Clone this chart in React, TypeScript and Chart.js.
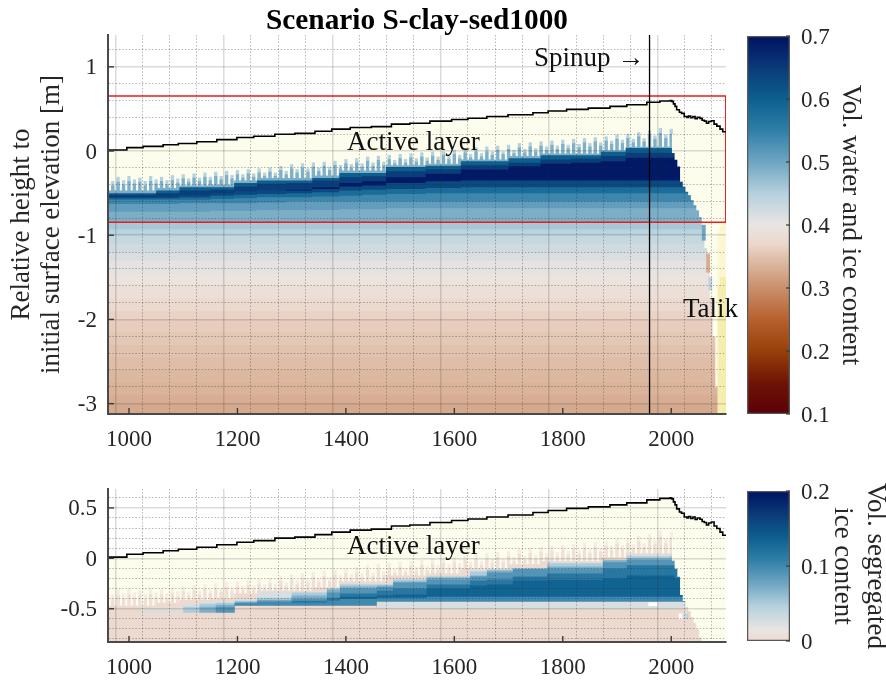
import { useEffect, useRef } from 'react';
import { Chart, registerables } from 'chart.js';

Chart.register(...registerables);

const SERIF = '"Liberation Serif", "Times New Roman", serif';
const INK = '#262626';

// colour map
const mapValues = [0.1, 0.15, 0.2, 0.25, 0.3, 0.35, 0.37, 0.4, 0.45, 0.5, 0.55, 0.6, 0.65, 0.7];
const mapColors = ['#5a0008', '#6f1405', '#993f0a', '#b7612e', '#c98f6c', '#e1c2ae', '#ecd8cc', '#e9e5e2', '#b5d1de', '#6fa5c2', '#307fa8', '#0d5f8f', '#0a3a78', '#001261'];

// surface elevation
const surfaceYears = [961, 996, 1026, 1063, 1091, 1125, 1162, 1199, 1230, 1269, 1306, 1343, 1374, 1408, 1447, 1484, 1518, 1555, 1595, 1625, 1660, 1699, 1745, 1773, 1807, 1847, 1887, 1918, 1955, 1979, 1998, 2001, 2004, 2007, 2010, 2015, 2019, 2024, 2029, 2032, 2036, 2040, 2044, 2048, 2053, 2057, 2061, 2065, 2069, 2074, 2079, 2084, 2090, 2095, 2101];
const surfaceElev = [0.012, 0.04, 0.055, 0.075, 0.09, 0.11, 0.135, 0.16, 0.175, 0.2, 0.21, 0.235, 0.26, 0.28, 0.29, 0.32, 0.33, 0.355, 0.375, 0.39, 0.41, 0.43, 0.455, 0.475, 0.495, 0.51, 0.53, 0.55, 0.58, 0.595, 0.6, 0.59, 0.56, 0.53, 0.49, 0.46, 0.447, 0.41, 0.4, 0.415, 0.395, 0.41, 0.385, 0.4, 0.388, 0.365, 0.355, 0.33, 0.35, 0.36, 0.32, 0.296, 0.26, 0.229, 0.221];

// seasonal thaw spikes
const spikeYears = [960, 970, 980, 990, 1000, 1010, 1020, 1030, 1040, 1050, 1060, 1070, 1080, 1090, 1100, 1110, 1120, 1130, 1140, 1150, 1160, 1170, 1180, 1190, 1200, 1210, 1220, 1230, 1240, 1250, 1260, 1270, 1280, 1290, 1300, 1310, 1320, 1330, 1340, 1350, 1360, 1370, 1380, 1390, 1400, 1410, 1420, 1430, 1440, 1450, 1460, 1470, 1480, 1490, 1500, 1510, 1520, 1530, 1540, 1550, 1560, 1570, 1580, 1590, 1600, 1610, 1620, 1630, 1640, 1650, 1660, 1670, 1680, 1690, 1700, 1710, 1720, 1730, 1740, 1750, 1760, 1770, 1780, 1790, 1800, 1810, 1820, 1830, 1840, 1850, 1860, 1870, 1880, 1890, 1900, 1910, 1920, 1930, 1940, 1950, 1960, 1970, 1980, 1990, 2000, 2010];
const spikeOuter = [-0.33, -0.36, -0.31, -0.35, -0.3, -0.34, -0.32, -0.36, -0.3, -0.34, -0.31, -0.35, -0.29, -0.33, -0.28, -0.33, -0.27, -0.32, -0.26, -0.31, -0.25, -0.3, -0.24, -0.29, -0.23, -0.28, -0.22, -0.27, -0.21, -0.26, -0.2, -0.26, -0.18, -0.24, -0.16, -0.22, -0.15, -0.21, -0.14, -0.2, -0.13, -0.19, -0.12, -0.17, -0.1, -0.16, -0.09, -0.15, -0.07, -0.14, -0.06, -0.13, -0.05, -0.11, -0.04, -0.1, -0.03, -0.09, -0.02, -0.08, -0.01, -0.07, 0, -0.06, 0.01, -0.05, 0.03, -0.04, 0.04, -0.03, 0.05, -0.01, 0.06, 0, 0.07, 0.01, 0.09, 0.02, 0.1, 0.03, 0.11, 0.05, 0.12, 0.06, 0.13, 0.07, 0.14, 0.08, 0.15, 0.09, 0.16, 0.1, 0.17, 0.12, 0.19, 0.13, 0.2, 0.14, 0.22, 0.15, 0.24, 0.18, 0.27, 0.19, 0.26, 0.1];
const spikeInner = [-0.38, -0.41, -0.37, -0.4, -0.36, -0.39, -0.37, -0.41, -0.36, -0.39, -0.36, -0.4, -0.35, -0.38, -0.33, -0.37, -0.32, -0.36, -0.31, -0.35, -0.3, -0.34, -0.29, -0.33, -0.28, -0.32, -0.27, -0.31, -0.26, -0.3, -0.25, -0.3, -0.23, -0.28, -0.21, -0.26, -0.2, -0.25, -0.19, -0.24, -0.18, -0.23, -0.17, -0.21, -0.15, -0.2, -0.14, -0.19, -0.12, -0.18, -0.11, -0.17, -0.1, -0.15, -0.09, -0.14, -0.08, -0.13, -0.07, -0.12, -0.06, -0.11, -0.05, -0.1, -0.04, -0.09, -0.02, -0.08, -0.01, -0.07, 0, -0.05, 0.01, -0.04, 0.02, -0.03, 0.04, -0.02, 0.05, -0.01, 0.06, 0.01, 0.07, 0.02, 0.08, 0.03, 0.09, 0.04, 0.1, 0.05, 0.11, 0.06, 0.12, 0.08, 0.14, 0.09, 0.15, 0.1, 0.17, 0.11, 0.19, 0.14, 0.21, 0.15, 0.2, 0.06];
const spikeBase = -0.62;

// water and ice bands: top of each band at each year
const coreYears = [961, 1000, 1050, 1093, 1150, 1194, 1236, 1290, 1338, 1388, 1430, 1474, 1547, 1612, 1700, 1759, 1815, 1870, 1916, 2005, 2101];
const bandValues = [0.49, 0.6, 0.645, 0.69, 0.63, 0.58, 0.54, 0.51, 0.49];
const band0 = [-0.47, -0.47, -0.44, -0.41, -0.4, -0.35, -0.32, -0.32, -0.29, -0.23, -0.23, -0.17, -0.15, -0.1, -0.06, -0.03, -0.03, 0.01, 0.05, 0.05, 0.05];
const band1 = [-0.5, -0.5, -0.47, -0.43, -0.43, -0.38, -0.35, -0.35, -0.32, -0.26, -0.26, -0.19, -0.175, -0.12, -0.085, -0.05, -0.05, -0.01, 0.035, 0.035, 0.035];
const band2 = [-0.52, -0.52, -0.5, -0.47, -0.46, -0.42, -0.39, -0.38, -0.35, -0.31, -0.3, -0.24, -0.215, -0.17, -0.14, -0.1, -0.09, -0.06, -0.02, -0.02, -0.02];
const band3 = [-0.6, -0.6, -0.6, -0.6, -0.6, -0.55, -0.5, -0.46, -0.43, -0.38, -0.36, -0.31, -0.27, -0.22, -0.18, -0.15, -0.14, -0.12, -0.08, -0.08, -0.08];
const band4 = [-0.55, -0.55, -0.54, -0.52, -0.5, -0.48, -0.47, -0.47, -0.45, -0.42, -0.41, -0.38, -0.36, -0.35, -0.35, -0.35, -0.35, -0.35, -0.35, -0.35, -0.35];
const band5 = [-0.56, -0.56, -0.56, -0.55, -0.53, -0.52, -0.51, -0.5, -0.49, -0.47, -0.46, -0.45, -0.44, -0.43, -0.43, -0.43, -0.43, -0.43, -0.43, -0.43, -0.43];
const band6 = [-0.58, -0.58, -0.58, -0.58, -0.57, -0.56, -0.55, -0.55, -0.54, -0.53, -0.52, -0.51, -0.5, -0.5, -0.5, -0.5, -0.5, -0.5, -0.5, -0.5, -0.5];
const band7 = [-0.63, -0.63, -0.63, -0.62, -0.62, -0.62, -0.61, -0.6, -0.6, -0.6, -0.6, -0.6, -0.6, -0.6, -0.6, -0.6, -0.6, -0.6, -0.6, -0.6, -0.6];
const band8 = [-0.72, -0.72, -0.72, -0.72, -0.71, -0.71, -0.7, -0.7, -0.7, -0.69, -0.69, -0.68, -0.68, -0.68, -0.68, -0.68, -0.68, -0.68, -0.68, -0.68, -0.68];

// deep rows
const deepTops = [-0.85, -0.93, -1.0, -1.1, -1.2, -1.3, -1.45, -1.6, -1.75, -1.9, -2.0, -2.15, -2.3, -2.45, -2.6, -2.75, -2.9, -3.0];
const deepValues = [0.46, 0.445, 0.435, 0.425, 0.415, 0.405, 0.395, 0.385, 0.375, 0.365, 0.36, 0.355, 0.35, 0.345, 0.34, 0.335, 0.33, 0.325];

// thawed column at the right end
const talikYears = [2005, 2010, 2015, 2020, 2025, 2030, 2035, 2040, 2045, 2050, 2055, 2060, 2065, 2070, 2075, 2080, 2085, 2090, 2095, 2100];
const talikEdge = [-0.02, -0.1, -0.18, -0.36, -0.42, -0.48, -0.52, -0.58, -0.64, -0.7, -0.78, -0.88, -1.15, -1.4, -1.75, -2.2, -2.8, -3.13, -3.13, -3.13];
const talikCeiling = 0.2;
const yellowYears = [2090, 2094, 2098, 2101];
const yellowLow = [-3.13, -3.13, -3.13, -3.13];
const yellowHigh = [-1.6, -1.5, -1.5, -1.5];
const paleYellowHigh = [-0.95, -0.9, -0.88, -0.86];
const spotYears = [2060, 2068, 2072];
const spotLow = [-1.06, -1.44, -1.65];
const spotHigh = [-0.88, -1.22, -1.5];
const spotValues = [0.5, 0.33, 0.44];

// segregated ice contours
const iceYears = [961, 1020, 1100, 1130, 1160, 1195, 1236, 1300, 1365, 1389, 1457, 1487, 1549, 1629, 1660, 1708, 1771, 1874, 1918, 1998, 2006, 2018, 2022, 2101];
const iceValues = [0.025, 0.05, 0.07, 0.09, 0.115, 0.135, 0.1, 0.025];
const ice1 = [-0.6, -0.51, -0.45, -0.43, -0.43, -0.4, -0.33, -0.33, -0.29, -0.25, -0.25, -0.2, -0.17, -0.11, -0.11, -0.1, -0.034, -0.017, 0.043, 0.043, -0.017, -0.215, -0.43, -0.43];
const ice2 = [-0.6, -0.6, -0.48, -0.45, -0.44, -0.42, -0.39, -0.34, -0.3, -0.26, -0.26, -0.21, -0.18, -0.13, -0.11, -0.1, -0.05, -0.017, 0.02, 0.03, -0.017, -0.215, -0.43, -0.43];
const ice3 = [-0.6, -0.6, -0.6, -0.48, -0.46, -0.43, -0.41, -0.37, -0.31, -0.28, -0.27, -0.23, -0.19, -0.17, -0.12, -0.1, -0.08, -0.02, 0, 0.01, -0.017, -0.215, -0.43, -0.43];
const ice4 = [-0.6, -0.6, -0.6, -0.6, -0.48, -0.44, -0.42, -0.4, -0.34, -0.3, -0.285, -0.24, -0.21, -0.18, -0.14, -0.105, -0.1, -0.04, -0.017, -0.017, -0.017, -0.215, -0.43, -0.43];
const ice5 = [-0.6, -0.6, -0.6, -0.6, -0.6, -0.45, -0.44, -0.42, -0.39, -0.35, -0.32, -0.3, -0.26, -0.22, -0.21, -0.18, -0.15, -0.1, -0.07, -0.07, -0.07, -0.215, -0.43, -0.43];
const ice6 = [-0.6, -0.6, -0.6, -0.6, -0.6, -0.6, -0.6, -0.6, -0.6, -0.38, -0.37, -0.36, -0.3, -0.27, -0.26, -0.22, -0.215, -0.2, -0.17, -0.17, -0.2, -0.215, -0.43, -0.43];
const ice7 = [-0.6, -0.6, -0.6, -0.6, -0.6, -0.45, -0.44, -0.44, -0.42, -0.4, -0.39, -0.39, -0.38, -0.38, -0.38, -0.38, -0.38, -0.38, -0.38, -0.38, -0.38, -0.38, -0.43, -0.43];
const ice8 = [-0.6, -0.6, -0.6, -0.6, -0.6, -0.6, -0.6, -0.6, -0.6, -0.6, -0.43, -0.43, -0.43, -0.43, -0.43, -0.43, -0.43, -0.43, -0.43, -0.43, -0.43, -0.43, -0.43, -0.43];
const iceBase = [-0.5, -0.54, -0.54, -0.54, -0.54, -0.47, -0.47, -0.47, -0.47, -0.47, -0.5, -0.5, -0.5, -0.5, -0.5, -0.5, -0.5, -0.5, -0.5, -0.5, -0.5, -0.5, -0.5, -0.5];
const gapYears = [1961, 1966, 1971, 2017];
const gapLow = [-0.47, -0.47, -0.47, -0.6];
const gapHigh = [-0.44, -0.44, -0.44, -0.55];
const paleIceYears = [2028];
const paleIceLow = [-0.6];
const paleIceHigh = [-0.55];

// axes
const xRange = [961.3, 2101];
const xGridTicks = [1000, 1050, 1100, 1150, 1200, 1250, 1300, 1350, 1400, 1450, 1500, 1550, 1600, 1650, 1700, 1750, 1800, 1850, 1900, 1950, 2000, 2050, 2100];
const xMajor = [1000, 1200, 1400, 1600, 1800, 2000];
const mainRange = [-3.123, 1.378];
const mainGridTicks = [-3, -2.8, -2.6, -2.4, -2.2, -2, -1.8, -1.6, -1.4, -1.2, -1, -0.8, -0.6, -0.4, -0.2, 0, 0.2, 0.4, 0.6, 0.8, 1, 1.2];
const mainMajor = [-3, -2, -1, 0, 1];
const lowerRange = [-0.83, 0.6875];
const lowerGridTicks = [-0.8, -0.7, -0.6, -0.5, -0.4, -0.3, -0.2, -0.1, 0, 0.1, 0.2, 0.3, 0.4, 0.5, 0.6];
const lowerMajor = [-0.5, 0, 0.5];
const redBoxX = [961.3, 2100.6, 2100.6, 961.3, 961.3];
const redBoxY = [0.653, 0.653, -0.847, -0.847, 0.653];
const spinupYear = 1960;
const barMainTicks = [0.1, 0.2, 0.3, 0.4, 0.5, 0.6, 0.7];
const barIceTicks = [0, 0.1, 0.2];
const chartTitle = 'Scenario S-clay-sed1000';

const CREAM = '#fdfdee';

function mapColor(v: number): string {
  let i = 0;
  while (i < mapValues.length - 2 && v > mapValues[i + 1]) i++;
  const t = Math.min(1, Math.max(0, (v - mapValues[i]) / (mapValues[i + 1] - mapValues[i])));
  const hex = (s: string, k: number) => parseInt(s.slice(1 + k * 2, 3 + k * 2), 16);
  const c = [0, 1, 2].map((k) => Math.round(hex(mapColors[i], k) * (1 - t) + hex(mapColors[i + 1], k) * t));
  return `rgb(${c[0]},${c[1]},${c[2]})`;
}
const iceToMap = (ice: number) => 0.375 + ice * 1.625;

const pairs = (xs: number[], ys: number[]) => xs.map((x, i) => ({ x, y: ys[i] }));
const floats = (xs: number[], lo: number[], hi: number[]) => xs.map((x, i) => ({ x, y: [lo[i], hi[i]] }));

const stepBand = (xs: number[], ys: number[], color: string) => ({
  type: 'line', data: pairs(xs, ys), stepped: true, fill: 'start', backgroundColor: color,
  borderWidth: 0, borderColor: 'transparent', pointRadius: 0,
});
const strokeLine = (xs: number[], ys: number[], color: string, width: number, stepped = false) => ({
  type: 'line', data: pairs(xs, ys), stepped, fill: false, borderColor: color, borderWidth: width, pointRadius: 0,
});
const floatBars = (data: any[], color: any, thickness: number) => ({
  type: 'bar', data, backgroundColor: color, borderWidth: 0, barThickness: thickness, grouped: false,
});
const ordered = (list: any[]) => list.map((d, i) => ({ ...d, order: list.length - i }));

const talikEdgeBars = () => floatBars(talikYears.map((x, i) => ({ x, y: [talikEdge[i], talikCeiling] })), CREAM, 3.4);

function mainDatasets() {
  const bands = [band0, band1, band2, band3, band4, band5, band6, band7, band8];
  return ordered([
    stepBand(surfaceYears, surfaceElev, CREAM),
    floatBars(spikeYears.map((x, i) => ({ x, y: [spikeBase, spikeOuter[i]] })), '#b4d2e0', 2.6),
    floatBars(spikeYears.map((x, i) => ({ x, y: [spikeBase, spikeInner[i]] })), '#7fb0ca', 2.6),
    ...bands.map((b, i) => stepBand(coreYears, b, mapColor(bandValues[i]))),
    ...deepTops.map((t, i) => stepBand(xRange, [t, t], mapColor(deepValues[i]))),
    talikEdgeBars(),
    floatBars(floats(yellowYears, yellowLow, paleYellowHigh), '#fbf7d2', 4),
    floatBars(floats(yellowYears, yellowLow, yellowHigh), '#f5eeae', 4),
    floatBars(floats(spotYears, spotLow, spotHigh), spotValues.map(mapColor), 3.2),
    strokeLine(redBoxX, redBoxY, '#f01a1a', 1.5),
    strokeLine(surfaceYears, surfaceElev, '#000000', 1.6, true),
    strokeLine([spinupYear, spinupYear], mainRange, '#000000', 1.3),
  ]);
}

function lowerDatasets() {
  const contours = [ice1, ice2, ice3, ice4, ice5, ice6, ice7, ice8];
  return ordered([
    stepBand(surfaceYears, surfaceElev, CREAM),
    floatBars(spikeYears.map((x, i) => ({ x, y: [spikeBase, spikeOuter[i]] })), '#f6ece2', 2.6),
    floatBars(spikeYears.map((x, i) => ({ x, y: [spikeBase, spikeInner[i]] })), '#efdfd6', 2.6),
    stepBand(coreYears, band0, mapColor(iceToMap(0))),
    ...contours.map((c, i) => stepBand(iceYears, c, mapColor(iceToMap(iceValues[i])))),
    stepBand(iceYears, iceBase, mapColor(iceToMap(0))),
    talikEdgeBars(),
    floatBars(floats(gapYears, gapLow, gapHigh), '#ffffff', 3),
    floatBars(floats(paleIceYears, paleIceLow, paleIceHigh), '#bcd6e3', 3.4),
    strokeLine(surfaceYears, surfaceElev, '#000000', 1.6, true),
  ]);
}

const tickFont = { family: SERIF, size: 23 };

function plotAxis(list: number[], major: number[], range: number[], labelOffset: number, gap: number, extra: any) {
  const isMajor = (ctx: any) => major.includes(ctx.tick?.value);
  return {
    type: 'linear', min: range[0], max: range[1], offset: false,
    afterBuildTicks: (axis: any) => { axis.ticks = list.map((value) => ({ value })); },
    ticks: {
      autoSkip: false, maxRotation: 0, minRotation: 0, color: INK, font: tickFont, padding: 0, labelOffset,
      callback: (v: any) => (major.includes(v) ? String(v) : ''),
    },
    grid: {
      drawTicks: true, tickLength: gap, tickColor: 'transparent', z: 1,
      color: (ctx: any) => (isMajor(ctx) ? 'rgba(40,40,40,0.17)' : 'rgba(40,40,40,0.34)'),
      lineWidth: (ctx: any) => (isMajor(ctx) ? 1.5 : 1),
    },
    border: { display: true, color: '#4a4a4a', width: 2, z: 2, dash: (ctx: any) => (isMajor(ctx) ? [] : [1.5, 1.8]) },
    ...extra,
  };
}

const innerTicks = (xs: number[], ys: number[], labels: any[], heading?: string) => ({
  id: 'overlay',
  afterDraw(chart: any) {
    const { ctx, chartArea: a, scales } = chart;
    ctx.save();
    ctx.strokeStyle = '#3a3a3a';
    ctx.lineWidth = 1.4;
    xs.forEach((v) => {
      const p = scales.x.getPixelForValue(v);
      ctx.beginPath(); ctx.moveTo(p, a.bottom); ctx.lineTo(p, a.bottom - 6); ctx.stroke();
    });
    ys.forEach((v) => {
      const p = scales.y.getPixelForValue(v);
      ctx.beginPath(); ctx.moveTo(a.left, p); ctx.lineTo(a.left + 6, p); ctx.stroke();
    });
    ctx.fillStyle = '#111111';
    ctx.font = `27px ${SERIF}`;
    ctx.textBaseline = 'middle';
    ctx.textAlign = 'left';
    labels.forEach((l) => ctx.fillText(l.text, scales.x.getPixelForValue(l.x), scales.y.getPixelForValue(l.y)));
    if (heading) {
      ctx.fillStyle = '#000000';
      ctx.font = `bold 29.3px ${SERIF}`;
      ctx.textAlign = 'center';
      ctx.fillText(heading, (a.left + a.right) / 2, a.top - 14);
    }
    ctx.restore();
  },
});

const barTicks = (ticks: number[]) => ({
  id: 'barTicks',
  afterDraw(chart: any) {
    const { ctx, chartArea: a, scales } = chart;
    ctx.save();
    ctx.strokeStyle = '#3a3a3a';
    ctx.lineWidth = 1.2;
    ticks.forEach((v) => {
      const p = scales.y.getPixelForValue(v);
      ctx.beginPath(); ctx.moveTo(a.right, p); ctx.lineTo(a.right - 4, p); ctx.stroke();
    });
    ctx.restore();
  },
});

function colorBar(canvas: HTMLCanvasElement, lo: number, hi: number, ticks: number[], toMap: (v: number) => number, fmt: (v: number) => string, title: any, titlePad: number, lineHeight: number, pad: any) {
  return new Chart(canvas, {
    type: 'bar',
    data: {
      labels: [''],
      datasets: [{
        data: [[lo, hi]],
        barPercentage: 1, categoryPercentage: 1, borderWidth: 1.6, borderColor: '#585858', borderSkipped: false,
        backgroundColor: (ctx: any) => {
          const area = ctx.chart.chartArea;
          if (!area) return '#888888';
          const g = ctx.chart.ctx.createLinearGradient(0, area.bottom, 0, area.top);
          const from = toMap(lo);
          const to = toMap(hi);
          g.addColorStop(0, mapColor(from));
          mapValues.forEach((m) => {
            const t = (m - from) / (to - from);
            if (t > 0 && t < 1) g.addColorStop(t, mapColor(m));
          });
          g.addColorStop(1, mapColor(to));
          return g;
        },
      }],
    },
    options: {
      responsive: false, animation: false,
      layout: { padding: pad },
      plugins: { legend: { display: false }, tooltip: { enabled: false } },
      scales: {
        x: { display: false, offset: true },
        y: {
          position: 'right', min: lo, max: hi,
          afterFit: (s: any) => { s.width = 96; },
          afterBuildTicks: (axis: any) => { axis.ticks = ticks.map((value) => ({ value })); },
          grid: { display: false, drawTicks: true, tickLength: 11 }, border: { display: false },
          ticks: { color: INK, font: tickFont, padding: 0, labelOffset: 2, autoSkip: false, callback: (v: any) => fmt(Number(v)) },
          title: {
            display: true, text: title, color: INK,
            font: { family: SERIF, size: 27, lineHeight },
            padding: { top: titlePad, bottom: 0 },
          },
        },
      },
    } as any,
    plugins: [barTicks(ticks)],
  } as any);
}

export default function App() {
  const mainRef = useRef<HTMLCanvasElement>(null);
  const lowerRef = useRef<HTMLCanvasElement>(null);
  const bar1Ref = useRef<HTMLCanvasElement>(null);
  const bar2Ref = useRef<HTMLCanvasElement>(null);

  useEffect(() => {
    const main = new Chart(mainRef.current!, {
      type: 'line',
      data: { datasets: mainDatasets() },
      options: {
        responsive: false, animation: false,
        layout: { padding: { left: 0, right: 108, top: 35, bottom: 0 } },
        plugins: { legend: { display: false }, tooltip: { enabled: false }, title: { display: false } },
        scales: {
          x: plotAxis(xGridTicks, xMajor, xRange, 0, 12, { afterFit: (s: any) => { s.height = 36; } }),
          y: plotAxis(mainGridTicks, mainMajor, mainRange, 1.5, 11, {
            afterFit: (s: any) => { s.width = 108; },
            title: {
              display: true, text: ['Relative height to', 'initial surface elevation [m]'], color: INK,
              font: { family: SERIF, size: 27, lineHeight: 1.11 },
              padding: { top: 7, bottom: 0 },
            },
          }),
        },
      } as any,
      plugins: [innerTicks(xMajor, mainMajor, [
        { text: 'Active layer', x: 1402, y: 0.095 },
        { text: 'Spinup →', x: 1747, y: 1.09 },
        { text: 'Talik', x: 2021.6, y: -1.89 },
      ], chartTitle)],
    } as any);

    const lower = new Chart(lowerRef.current!, {
      type: 'line',
      data: { datasets: lowerDatasets() },
      options: {
        responsive: false, animation: false,
        layout: { padding: { left: 0, right: 108, top: 19, bottom: 0 } },
        plugins: { legend: { display: false }, tooltip: { enabled: false } },
        scales: {
          x: plotAxis(xGridTicks, xMajor, xRange, 0, 12, { afterFit: (s: any) => { s.height = 39; } }),
          y: plotAxis(lowerGridTicks, lowerMajor, lowerRange, 1.5, 11, { afterFit: (s: any) => { s.width = 108; } }),
        },
      } as any,
      plugins: [innerTicks(xMajor, lowerMajor, [{ text: 'Active layer', x: 1402, y: 0.11 }])],
    } as any);

    const bar1 = colorBar(bar1Ref.current!, 0.1, 0.7, barMainTicks, (v) => v, (v) => v.toFixed(1), 'Vol. water and ice content', 21, 1.11, { left: 7, top: 36, bottom: 16, right: 0 });
    const bar2 = colorBar(bar2Ref.current!, 0, 0.2, barIceTicks, iceToMap, (v) => (v === 0 ? '0' : v.toFixed(1)), ['Vol. segregated', 'ice content'], -6, 1.22, { left: 7, top: 21, bottom: 29, right: 0 });

    return () => {
      main.destroy();
      lower.destroy();
      bar1.destroy();
      bar2.destroy();
    };
  }, []);

  const abs = (left: number, top: number, width: number, height: number): any => ({ position: 'absolute', left, top, width, height, display: 'block' });

  return (
    <div style={{ position: 'absolute', left: 0, top: 0, width: 886, height: 681, overflow: 'hidden', background: '#ffffff' }}>
      <canvas ref={mainRef} width={834} height={450} style={abs(0, 0, 834, 450)} />
      <canvas ref={lowerRef} width={834} height={211} style={abs(0, 470, 834, 211)} />
      <canvas ref={bar1Ref} width={146} height={430} style={abs(740, 0, 146, 430)} />
      <canvas ref={bar2Ref} width={146} height={200} style={abs(740, 470, 146, 200)} />
    </div>
  );
}
